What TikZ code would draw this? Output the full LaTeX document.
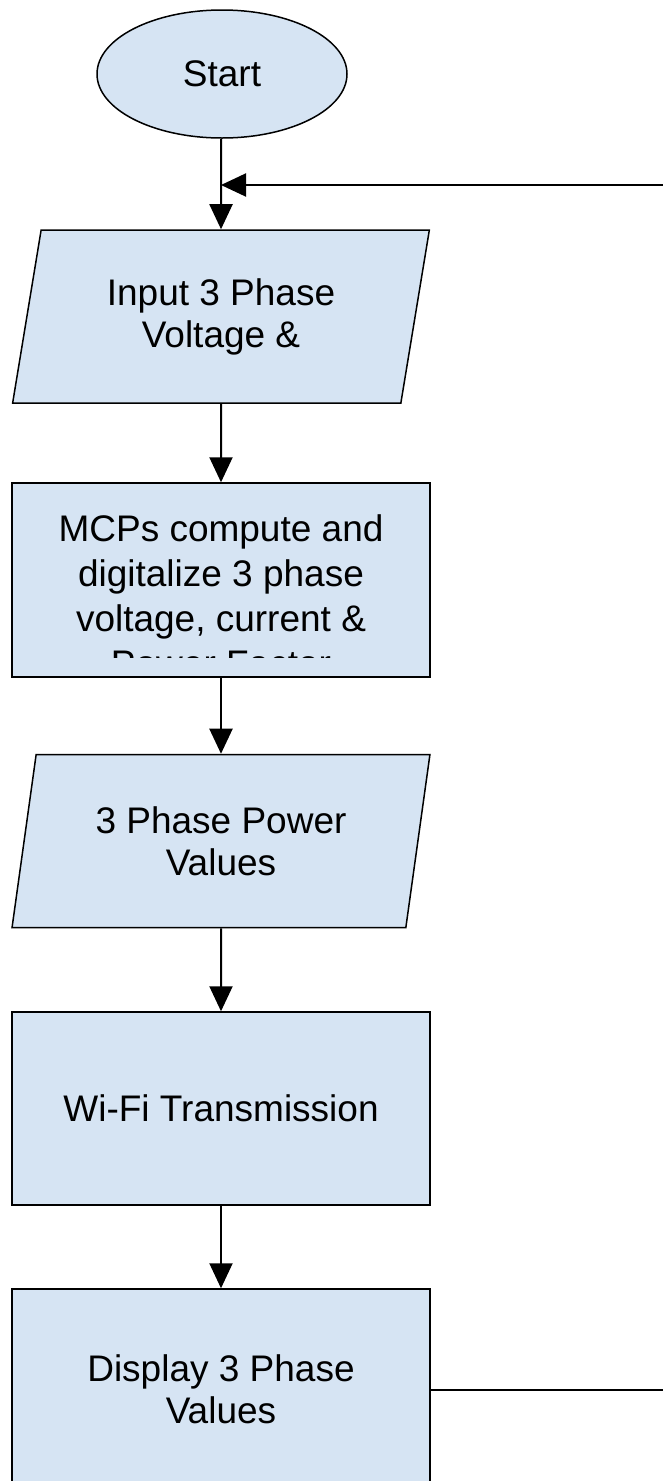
\documentclass[tikz,border=0pt]{standalone}
\usepackage{fontspec}
\setmainfont{Liberation Sans}
\usetikzlibrary{shapes.geometric,arrows.meta}
\definecolor{boxblue}{RGB}{214,228,243}
\tikzset{
  startbox/.style={draw,fill=boxblue,line width=1.5pt,ellipse,minimum width=250pt,minimum height=128pt,inner sep=0pt},
  flowbox/.style={draw,fill=boxblue,line width=1.5pt,rectangle,minimum width=418pt,inner sep=0pt,align=center},
  iobox/.style={draw,fill=boxblue,line width=1.5pt,trapezium,trapezium left angle=76.7,trapezium right angle=103.3,
    trapezium stretches=true,minimum width=418pt,minimum height=173pt,inner sep=0pt,align=center},
  flowarrow/.style={line width=2pt,-{Triangle[length=25pt,width=23pt]}}
}

\begin{document}
\begin{tikzpicture}[x=1pt,y=-1pt,font=\fontsize{37}{42}\selectfont]
\useasboundingbox (0,0) rectangle (663,1481);
\clip (0,0) rectangle (663,1481);

\node[startbox] (start) at (222,74) {Start};
\node[iobox] (input) at (221,316.5) {Input 3 Phase\\Voltage \&};
\node[flowbox,minimum height=194pt] (mcp) at (221,580) {};
\node[iobox] (power) at (221,841) {3 Phase Power\\Values};
\node[flowbox,minimum height=193pt] (wifi) at (221,1108.5) {Wi-Fi Transmission};
\node[flowbox,minimum height=201pt] (display) at (221,1389.5) {Display 3 Phase\\Values};

% text of the mcp box runs past its bottom
\begin{scope}
\clip (mcp.north west) rectangle ([yshift=20pt]mcp.south east);
\node[anchor=north,inner sep=0pt,align=center,font=\fontsize{37}{45}\selectfont] (mcptext) at (221,514)
  {MCPs compute and\\digitalize 3 phase\\voltage, current \&\\Power Factor};
\end{scope}

\coordinate (merge) at (221,185);
\coordinate (loopright) at (700,185);

\draw[flowarrow] (start.south -| merge) -- (input);
\draw[flowarrow] (input) -- (mcp);
\draw[flowarrow] (mcp) -- (power);
\draw[flowarrow] (power) -- (wifi);
\draw[flowarrow] (wifi) -- (display);
\draw[flowarrow] (display.east) -| (loopright) -- (merge);

\end{tikzpicture}
\end{document}
